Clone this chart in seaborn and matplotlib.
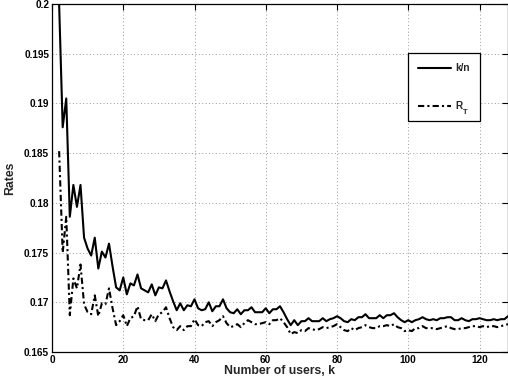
import numpy as np
import pandas as pd
import matplotlib
matplotlib.use("Agg")
import matplotlib.pyplot as plt
import seaborn as sns

# ---------------- data ----------------
users_k = list(range(2, 129))

rate_kn = [
    0.2000, 0.1876, 0.1905, 0.1786, 0.1818, 0.1796, 0.1818, 0.1765, 0.1754, 0.1747,
    0.1765, 0.1734, 0.1751, 0.1745, 0.1759, 0.1736, 0.1715, 0.1712, 0.1725, 0.1708,
    0.1719, 0.1717, 0.1728, 0.1714, 0.1712, 0.1710, 0.1718, 0.1707, 0.1715, 0.1714,
    0.1722, 0.1711, 0.1701, 0.1692, 0.1699, 0.1692, 0.1697, 0.1696, 0.1703, 0.1694,
    0.1692, 0.1693, 0.1700, 0.1691, 0.1696, 0.1696, 0.1703, 0.1694, 0.1690, 0.1689,
    0.1693, 0.1688, 0.1692, 0.1692, 0.1695, 0.1690, 0.1690, 0.1690, 0.1694, 0.1689,
    0.1693, 0.1693, 0.1696, 0.1690, 0.1683, 0.1677, 0.1682, 0.1677, 0.1681, 0.1681,
    0.1684, 0.1681, 0.1681, 0.1681, 0.1684, 0.1681, 0.1683, 0.1684, 0.1686, 0.1684,
    0.1681, 0.1680, 0.1683, 0.1682, 0.1685, 0.1685, 0.1688, 0.1684, 0.1684, 0.1684,
    0.1687, 0.1684, 0.1687, 0.1687, 0.1689, 0.1685, 0.1682, 0.1680, 0.1682, 0.1680,
    0.1682, 0.1683, 0.1685, 0.1683, 0.1682, 0.1683, 0.1682, 0.1684, 0.1684, 0.1685,
    0.1685, 0.1682, 0.1682, 0.1684, 0.1682, 0.1681, 0.1683, 0.1683, 0.1684, 0.1683,
    0.1682, 0.1682, 0.1683, 0.1682, 0.1683, 0.1683, 0.1686,
]

rate_rt = [
    0.1852, 0.1750, 0.1786, 0.1687, 0.1724, 0.1714, 0.1738, 0.1698, 0.1690, 0.1688,
    0.1707, 0.1686, 0.1699, 0.1698, 0.1714, 0.1694, 0.1677, 0.1681, 0.1687, 0.1676,
    0.1684, 0.1686, 0.1696, 0.1683, 0.1682, 0.1682, 0.1688, 0.1681, 0.1688, 0.1690,
    0.1695, 0.1684, 0.1675, 0.1672, 0.1676, 0.1672, 0.1676, 0.1676, 0.1683, 0.1677,
    0.1676, 0.1680, 0.1681, 0.1676, 0.1680, 0.1682, 0.1686, 0.1679, 0.1675, 0.1676,
    0.1678, 0.1675, 0.1679, 0.1682, 0.1680, 0.1678, 0.1678, 0.1679, 0.1680, 0.1678,
    0.1682, 0.1682, 0.1684, 0.1680, 0.1675, 0.1668, 0.1670, 0.1669, 0.1672, 0.1671,
    0.1674, 0.1673, 0.1672, 0.1673, 0.1675, 0.1674, 0.1675, 0.1676, 0.1678, 0.1675,
    0.1672, 0.1671, 0.1674, 0.1672, 0.1674, 0.1675, 0.1677, 0.1675, 0.1674, 0.1674,
    0.1676, 0.1676, 0.1677, 0.1676, 0.1678, 0.1675, 0.1674, 0.1671, 0.1672, 0.1671,
    0.1674, 0.1674, 0.1676, 0.1674, 0.1674, 0.1674, 0.1673, 0.1674, 0.1675, 0.1676,
    0.1674, 0.1673, 0.1673, 0.1674, 0.1674, 0.1675, 0.1676, 0.1676, 0.1675, 0.1676,
    0.1675, 0.1676, 0.1676, 0.1675, 0.1676, 0.1677, 0.1678,
]

series_names = ["k/n", "R"]
rt_subscript = "T"
xtick_values = [0, 20, 40, 60, 80, 100, 120]
ytick_values = [0.165, 0.17, 0.175, 0.18, 0.185, 0.19, 0.195, 0.2]
ytick_labels = ["0.165", "0.17", "0.175", "0.18", "0.185", "0.19", "0.195", "0.2"]

# ---------------- style ----------------
sns.set_style("white")
plt.rcParams["font.family"] = ["Liberation Sans", "DejaVu Sans"]
plt.rcParams["font.weight"] = "bold"

df = pd.DataFrame({
    "k": users_k + users_k,
    "rate": rate_kn + rate_rt,
    "series": [series_names[0]] * len(users_k) + [series_names[1]] * len(users_k),
})

fig = plt.figure(figsize=(5.08, 3.81), dpi=100)
ax = fig.add_axes([52 / 508, 29 / 381, 456 / 508, 348 / 381])

sns.lineplot(data=df, x="k", y="rate", hue="series", style="series",
             palette=["black", "black"],
             dashes={series_names[0]: "", series_names[1]: (3, 1.5, 1, 1.5)},
             linewidth=1.5, ax=ax, legend=True)

ax.set_xlim(0, 128)
ax.set_ylim(0.165, 0.2)
ax.set_xticks(xtick_values)
ax.set_xticklabels([str(v) for v in xtick_values], fontsize=7.2, fontweight="bold")
ax.set_yticks(ytick_values)
ax.set_yticklabels(ytick_labels, fontsize=7.2, fontweight="bold")
ax.tick_params(direction="in", length=4, width=0.8, top=True, right=True,
               pad=2, colors="black")
ax.grid(True, linestyle=(0, (1, 2.5)), color="#999999", linewidth=0.7)
for s in ax.spines.values():
    s.set_color("black")
    s.set_linewidth(0.9)
    s.set_visible(True)

ax.set_xlabel("Number of users, k", fontsize=8.8, fontweight="bold", labelpad=0)
ax.set_ylabel("Rates", fontsize=8.8, fontweight="bold", labelpad=6)

leg = ax.legend(loc="upper left", bbox_to_anchor=(0.781, 0.859),
                prop={"size": 7.2, "weight": "bold"}, frameon=True,
                fancybox=False, edgecolor="black", framealpha=1,
                handlelength=3.3, handletextpad=0.4, borderpad=1.0,
                labelspacing=2.8, borderaxespad=0)
leg.get_frame().set_linewidth(0.9)
for t in leg.get_texts():
    t.set_fontweight("bold")

# subscript T attached to the "R" legend label
r_text = leg.get_texts()[1]
ax.annotate(rt_subscript, xy=(1.0, 0.0), xycoords=r_text,
            xytext=(0.4, -1.0), textcoords="offset points",
            fontsize=5.5, fontweight="bold", ha="left", va="center",
            annotation_clip=False, zorder=20)

fig.savefig("out.png", dpi=100)
